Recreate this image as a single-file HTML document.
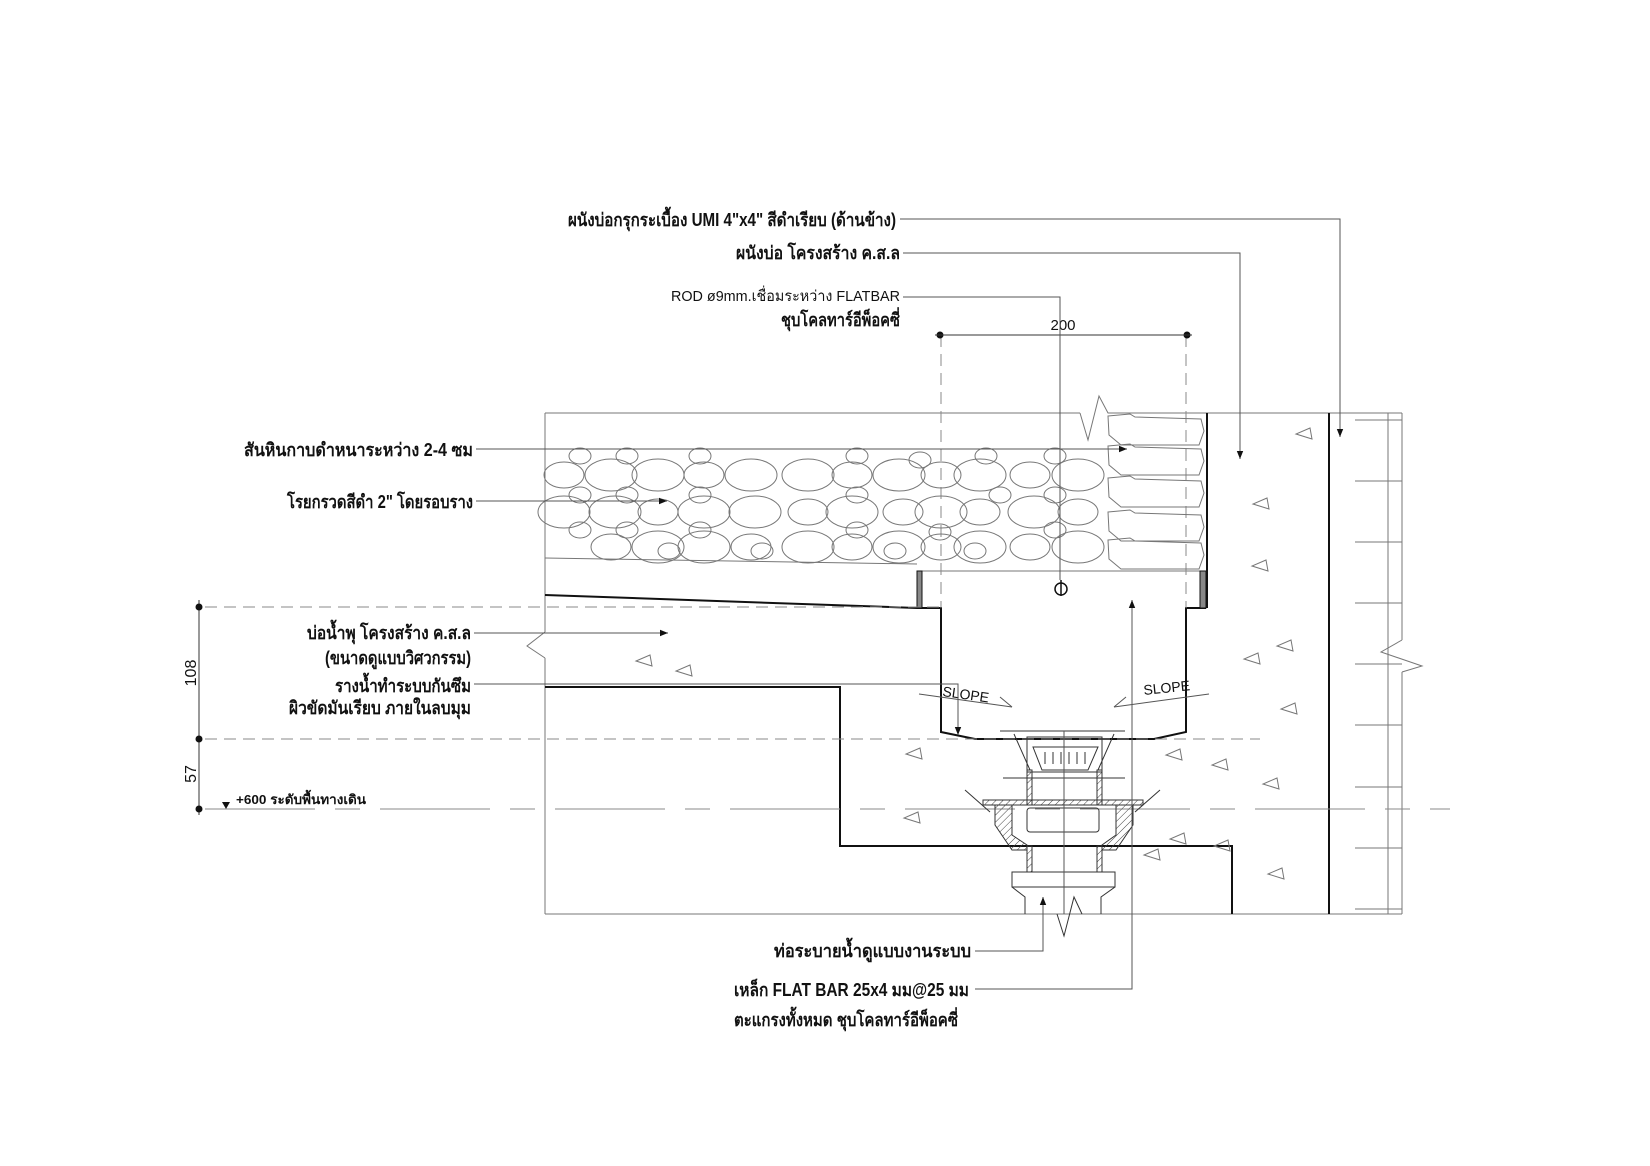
<!DOCTYPE html>
<html><head><meta charset="utf-8"><style>
html,body{margin:0;padding:0;background:#fff;}
svg{display:block}
text{font-family:"Liberation Sans","DejaVu Sans",sans-serif;fill:#111;}
</style></head><body>
<svg id="s" width="1650" height="1166" viewBox="0 0 1650 1166" xmlns="http://www.w3.org/2000/svg">
<defs>
<marker id="ar" viewBox="0 0 10 10" refX="10" refY="5" markerWidth="12" markerHeight="8" markerUnits="userSpaceOnUse" orient="auto"><path d="M0,1 L10,5 L0,9 z" fill="#111"/></marker>
<pattern id="hat" width="5" height="5" patternUnits="userSpaceOnUse" patternTransform="rotate(45)"><line x1="0" y1="0" x2="0" y2="5" stroke="#444" stroke-width="1"/></pattern>
</defs>
<g fill="none" stroke="#777" stroke-width="1">
<line x1="545" y1="413" x2="1080" y2="413"/>
<polyline points="1080,413 1088,440 1099,396 1108,413 1402,413"/>
<line x1="545" y1="413" x2="545" y2="632"/>
<polyline points="545,632 527,646 545,658"/>
<line x1="545" y1="658" x2="545" y2="914"/>
<line x1="545" y1="914" x2="1402" y2="914"/>
<line x1="545" y1="558" x2="917" y2="564"/>
<line x1="922" y1="571" x2="1207" y2="571"/>
<line x1="1388" y1="413" x2="1388" y2="914"/>
<line x1="1402" y1="413" x2="1402" y2="640"/>
<polyline points="1402,640 1381,652 1422,666 1402,672"/>
<line x1="1402" y1="672" x2="1402" y2="914"/>
</g>
<g stroke="#777" stroke-width="1" id="tj"></g>
<g fill="none" stroke="#111" stroke-width="2">
<line x1="1207" y1="413" x2="1207" y2="608"/>
<line x1="1329" y1="413" x2="1329" y2="914"/>
<polyline points="545,595 917,608 941,608 941,732 975,739 1154,739 1186,732 1186,608 1206,608"/>
<polyline points="545,687 840,687 840,846 1232,846 1232,914"/>
</g>
<rect x="917" y="571" width="5" height="37" fill="#888" stroke="#111"/>
<rect x="1200" y="571" width="6" height="37" fill="#888" stroke="#111"/>
<g stroke="#888" stroke-width="1" fill="none" stroke-dasharray="12,7">
<line x1="941" y1="335" x2="941" y2="608"/>
<line x1="1186" y1="335" x2="1186" y2="608"/>
<line x1="205" y1="607" x2="945" y2="607"/>
<line x1="205" y1="739" x2="1260" y2="739"/>
</g>
<line x1="205" y1="809" x2="1450" y2="809" stroke="#888" stroke-dasharray="110,20,25,20"/>
<g stroke="#333" stroke-width="1">
<line x1="199" y1="600" x2="199" y2="815"/>
</g>
<g fill="#111"><circle cx="199" cy="607" r="3.5"/><circle cx="199" cy="739" r="3.5"/><circle cx="199" cy="809" r="3.5"/>
<circle cx="940" cy="335" r="3.5"/><circle cx="1187" cy="335" r="3.5"/>
<path d="M222,802 l8,0 l-4,7z"/></g>
<line x1="935" y1="335" x2="1192" y2="335" stroke="#333"/>
<text x="1063" y="330" font-size="15" text-anchor="middle">200</text>
<text transform="translate(196,673) rotate(-90)" font-size="16" text-anchor="middle">108</text>
<text transform="translate(196,774) rotate(-90)" font-size="16" text-anchor="middle">57</text>
<text x="236" y="804" font-size="13" font-weight="bold" textLength="130" lengthAdjust="spacingAndGlyphs">+600 ระดับพื้นทางเดิน</text>
<g id="st" fill="none" stroke="#777" stroke-width="1"></g>
<g fill="none" stroke="#777" stroke-width="1">
<path d="M1108,416 l22,-2 l5,3 l66,2 l3,12 l-5,14 l-78,0 l-12,-10z"/>
<path d="M1108,446 l22,-2 l5,3 l66,2 l3,12 l-5,14 l-78,0 l-12,-10z"/>
<path d="M1108,478 l22,-2 l5,3 l66,2 l3,12 l-5,14 l-78,0 l-12,-10z"/>
<path d="M1108,512 l22,-2 l5,3 l66,2 l3,12 l-5,14 l-78,0 l-12,-10z"/>
<path d="M1108,540 l22,-2 l5,3 l66,2 l3,12 l-5,14 l-78,0 l-12,-10z"/>
</g>
<g id="tri" fill="none" stroke="#777" stroke-width="1"></g>
<circle cx="1061" cy="589" r="6" fill="none" stroke="#111" stroke-width="1.5"/>
<line x1="1061" y1="580" x2="1061" y2="596" stroke="#111" stroke-width="1.5"/>
<text transform="translate(942,696) rotate(8)" font-size="14">SLOPE</text>
<text transform="translate(1144,695) rotate(-6)" font-size="14">SLOPE</text>
<g stroke="#555" fill="none">
<line x1="919" y1="694" x2="1012" y2="707"/><line x1="1000" y1="697" x2="1012" y2="707"/>
<line x1="1209" y1="694" x2="1114" y2="707"/><line x1="1126" y1="697" x2="1114" y2="707"/>
</g>
<g fill="none" stroke="#333" stroke-width="1">
<line x1="1000" y1="731" x2="1125" y2="731"/>
<rect x="1027" y="737" width="75" height="35"/>
<path d="M1033,747 L1098,747 L1088,770 L1042,770z"/>
<path d="M1045,752 v12 M1053,752 v12 M1061,752 v12 M1069,752 v12 M1077,752 v12 M1085,752 v12"/>
<path d="M1014,734 L1030,770 M1114,734 L1098,770"/>
<rect x="1027" y="770" width="5" height="35" fill="url(#hat)"/>
<rect x="1097" y="770" width="5" height="35" fill="url(#hat)"/>
<line x1="1003" y1="778" x2="1125" y2="778"/>
<rect x="983" y="800" width="160" height="5" fill="url(#hat)"/>
<path d="M965,790 L990,812 M1160,790 L1135,812"/>
<path d="M995,805 L1012,805 L1012,835 L1027,845 L1027,850 L1012,850 L995,825z" fill="url(#hat)"/>
<path d="M1133,805 L1116,805 L1116,835 L1102,845 L1102,850 L1116,850 L1133,825z" fill="url(#hat)"/>
<rect x="1027" y="808" width="72" height="24" rx="3"/>
<rect x="1027" y="846" width="5" height="26" fill="url(#hat)"/>
<rect x="1097" y="846" width="5" height="26" fill="url(#hat)"/>
<rect x="1012" y="872" width="103" height="15"/>
<path d="M1012,887 L1025,897 L1025,914 M1115,887 L1101,897 L1101,914"/>
<line x1="1064" y1="731" x2="1064" y2="914" stroke="#555"/>
<polyline points="1057,914 1064,936 1074,897 1082,914"/>
</g>
<g fill="none" stroke="#555" stroke-width="1">
<polyline points="900,219 1340,219 1340,437" marker-end="url(#ar)"/>
<polyline points="903,253 1240,253 1240,459" marker-end="url(#ar)"/>
<polyline points="903,297 1060,297 1060,580"/>
<polyline points="476,449 1127,449" marker-end="url(#ar)"/>
<polyline points="476,501 667,501" marker-end="url(#ar)"/>
<polyline points="474,633 668,633" marker-end="url(#ar)"/>
<polyline points="474,684 958,684 958,735" marker-end="url(#ar)"/>
<polyline points="975,951 1043,951 1043,897" marker-end="url(#ar)"/>
<polyline points="975,989 1132,989 1132,600" marker-end="url(#ar)"/>
</g>
<g font-size="18" font-weight="bold">
<text x="568" y="226" textLength="328" lengthAdjust="spacingAndGlyphs">ผนังบ่อกรุกระเบื้อง UMI 4"x4" สีดำเรียบ (ด้านข้าง)</text>
<text x="736" y="259" textLength="164" lengthAdjust="spacingAndGlyphs">ผนังบ่อ โครงสร้าง ค.ส.ล</text>
<text x="671" y="301" font-size="15" font-weight="normal" textLength="229" lengthAdjust="spacingAndGlyphs">ROD ø9mm.เชื่อมระหว่าง FLATBAR</text>
<text x="781" y="326" textLength="119" lengthAdjust="spacingAndGlyphs">ชุบโคลทาร์อีพ็อคซี่</text>
<text x="244" y="456" textLength="229" lengthAdjust="spacingAndGlyphs">สันหินกาบดำหนาระหว่าง 2-4 ซม</text>
<text x="287" y="508" textLength="186" lengthAdjust="spacingAndGlyphs">โรยกรวดสีดำ 2" โดยรอบราง</text>
<text x="307" y="639" textLength="164" lengthAdjust="spacingAndGlyphs">บ่อน้ำพุ โครงสร้าง ค.ส.ล</text>
<text x="325" y="664" textLength="146" lengthAdjust="spacingAndGlyphs">(ขนาดดูแบบวิศวกรรม)</text>
<text x="335" y="692" textLength="136" lengthAdjust="spacingAndGlyphs">รางน้ำทำระบบกันซึม</text>
<text x="289" y="714" textLength="182" lengthAdjust="spacingAndGlyphs">ผิวขัดมันเรียบ ภายในลบมุม</text>
<text x="774" y="957" textLength="197" lengthAdjust="spacingAndGlyphs">ท่อระบายน้ำดูแบบงานระบบ</text>
<text x="734" y="996" textLength="235" lengthAdjust="spacingAndGlyphs">เหล็ก FLAT BAR 25x4 มม@25 มม</text>
<text x="734" y="1026" textLength="224" lengthAdjust="spacingAndGlyphs">ตะแกรงทั้งหมด ชุบโคลทาร์อีพ็อคซี่</text>
</g>
</svg>
<script>
var NS="http://www.w3.org/2000/svg";
function el(p,t,a){var e=document.createElementNS(NS,t);for(var k in a)e.setAttribute(k,a[k]);p.appendChild(e);}
var st=document.getElementById('st');
var rows=[[475,0],[512,1],[547,2]];
var xs=[564,611,658,704,751,808,852,899,941,980,1030,1078];
var big=[0,1,1,0,1,1,0,1,0,1,0,1];
rows.forEach(function(r,ri){xs.forEach(function(x,i){if(ri==2&&i==0)return;var rx=big[(i+ri)%12]?26:20;var ry=big[(i+ri)%12]?16:13;el(st,'ellipse',{cx:x+(ri==1&&i%3==1?4:0),cy:r[0],rx:rx,ry:ry});});});
[[580,456],[627,456],[700,456],[857,456],[920,460],[986,456],[1055,456],[580,495],[627,495],[700,495],[857,495],[1000,495],[1055,495],[580,530],[627,530],[700,530],[857,530],[940,532],[1055,530],[669,551],[762,551],[895,551],[975,551]].forEach(function(c){el(st,'ellipse',{cx:c[0],cy:c[1],rx:11,ry:8});});
var tj=document.getElementById('tj');
[420,481,542,603,664,725,787,848,909].forEach(function(y){el(tj,'line',{x1:1355,y1:y,x2:1402,y2:y});});
var tri=document.getElementById('tri');
[[1310,428],[1267,498],[1266,560],[1291,640],[1295,703],[1226,759],[1277,778],[1228,840],[1282,868],[1158,849],[650,655],[690,665],[1180,749],[920,748],[918,812],[1184,833],[1258,653]].forEach(function(t){el(tri,'path',{d:'M'+t[0]+','+t[1]+' l-14,6 l16,5 z'});});
</script>
</body></html>
